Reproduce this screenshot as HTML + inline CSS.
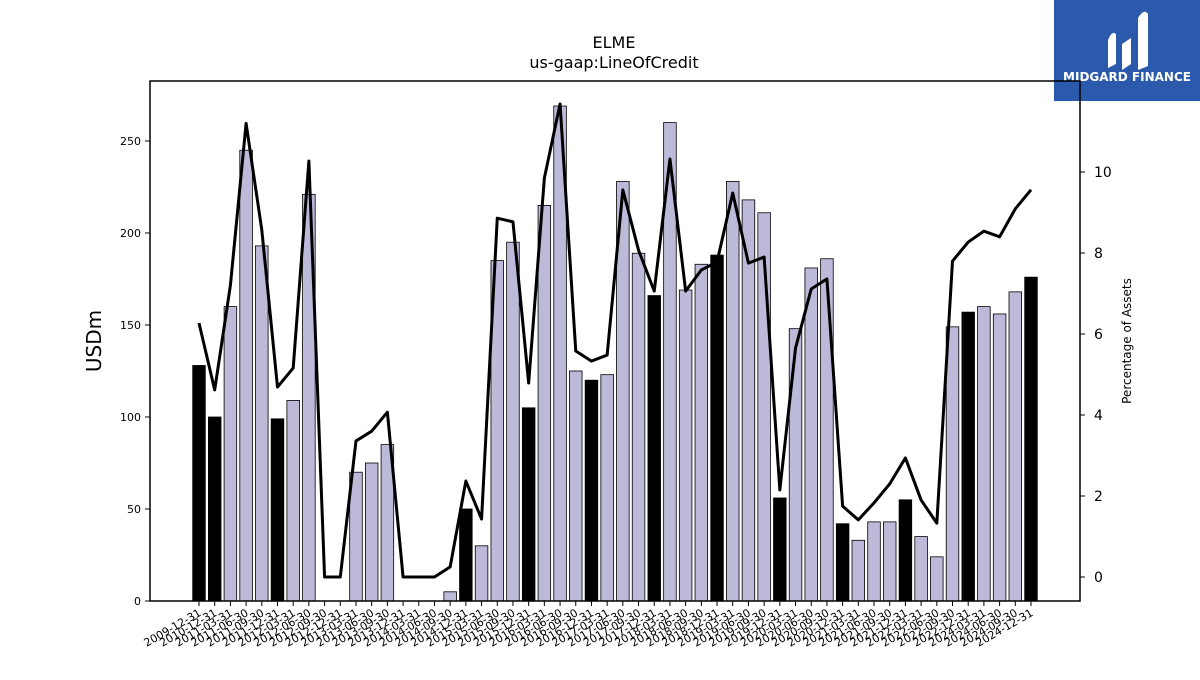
<!DOCTYPE html>
<html><head><meta charset="utf-8"><style>
body{margin:0;background:#fff;font-family:"Liberation Sans","DejaVu Sans",sans-serif;}
</style></head><body>
<svg id="c" width="1200" height="675" xmlns="http://www.w3.org/2000/svg" style="font-family:'DejaVu Sans','Liberation Sans',sans-serif">
<text x="614" y="48" text-anchor="middle" font-size="16">ELME</text>
<text x="614" y="68" text-anchor="middle" font-size="16">us-gaap:LineOfCredit</text>
<g>
<rect x="1054" y="0" width="146" height="101" fill="#2b5aad"/>
<path d="M1108 68 L1108 40 Q1112 30 1116 34 L1116 64 Z M1122 70 L1122 44 L1131 38 L1131 64 Z M1138 70 L1138 18 Q1144 8 1148 14 L1148 66 Z" fill="#fff"/>
<text x="1127" y="81" text-anchor="middle" font-size="12" font-weight="bold" fill="#fff">MIDGARD FINANCE</text>
</g>
<g id="plot"></g>
<text transform="translate(101,341) rotate(-90)" text-anchor="middle" font-size="20">USDm</text>
<text transform="translate(1131,341) rotate(-90)" text-anchor="middle" font-size="12">Percentage of Assets</text>
</svg>
<script>
const labels=["2009-12-31","2010-12-31","2011-03-31","2011-06-30","2011-09-30","2011-12-31","2012-03-31","2012-06-30","2012-09-30","2012-12-31","2013-03-31","2013-06-30","2013-09-30","2013-12-31","2014-03-31","2014-06-30","2014-09-30","2014-12-31","2015-03-31","2015-06-30","2015-09-30","2015-12-31","2016-03-31","2016-06-30","2016-09-30","2016-12-31","2017-03-31","2017-06-30","2017-09-30","2017-12-31","2018-03-31","2018-06-30","2018-09-30","2018-12-31","2019-03-31","2019-06-30","2019-09-30","2019-12-31","2020-03-31","2020-06-30","2020-09-30","2020-12-31","2021-03-31","2021-06-30","2021-09-30","2021-12-31","2022-03-31","2022-06-30","2022-09-30","2022-12-31","2024-03-31","2024-06-30","2024-09-30","2024-12-31"];
const values=[128,100,160,245,193,99,109,221,0,0,70,75,85,0,0,0,5,50,30,185,195,105,215,269,125,120,123,228,189,166,260,169,183,188,228,218,211,56,148,181,186,42,33,43,43,55,35,24,149,157,160,156,168,176];
const pct=[6.27,4.62,7.2,11.2,8.57,4.69,5.16,10.27,0,0,3.36,3.6,4.07,0,0,0,0.25,2.37,1.43,8.86,8.77,4.79,9.85,11.68,5.58,5.33,5.48,9.56,8.07,7.06,10.32,7.06,7.58,7.78,9.48,7.75,7.9,2.15,5.65,7.11,7.36,1.75,1.41,1.83,2.3,2.94,1.9,1.33,7.8,8.27,8.54,8.4,9.09,9.56];
const yTicks=[0,50,100,150,200,250];
const y2Ticks=[0,2,4,6,8,10];
const NS="http://www.w3.org/2000/svg";
const g=document.getElementById('plot');
const L=150,R=1080,T=81,B=601;
const x0=199,step=(1031-199)/(labels.length-1);
const X=i=>x0+i*step;
const Y=v=>601-v*1.84;
const Y2=v=>577-v*40.5;
function mk(t,a){const e=document.createElementNS(NS,t);for(const k in a)e.setAttribute(k,a[k]);g.appendChild(e);return e;}
values.forEach((v,i)=>{
 const blk=labels[i].endsWith("12-31");
 const r=mk('rect',{x:X(i)-6.3,y:Y(v),width:12.6,height:v*1.84,fill:blk?'#000':'#bcbad8',stroke:'#000','stroke-width':0.8});
 
 
});
const p=mk('polyline',{points:pct.map((v,i)=>X(i)+','+Y2(v)).join(' '),fill:'none',stroke:'#000','stroke-width':3,'stroke-linejoin':'round'});


const fr=mk('rect',{x:L,y:T,width:R-L,height:B-T,fill:'none',stroke:'#000','stroke-width':1.5});


yTicks.forEach(v=>{
 mk('line',{x1:L-5,x2:L,y1:Y(v),y2:Y(v),stroke:'#000'});
 const t=mk('text',{x:L-9,y:Y(v)+4,'text-anchor':'end','font-size':11});t.textContent=v;
 
 
});
y2Ticks.forEach(v=>{
 mk('line',{x1:R,x2:R+5,y1:Y2(v),y2:Y2(v),stroke:'#000'});
 const t=mk('text',{x:R+14,y:Y2(v)+5,'font-size':14});t.textContent=v;
 
 
});
labels.forEach((l,i)=>{
 mk('line',{x1:X(i),x2:X(i),y1:B,y2:B+5,stroke:'#000'});
 const t=mk('text',{x:X(i)+3,y:B+14,'text-anchor':'end','font-size':11,transform:`rotate(-30 ${X(i)+3} ${B+14})`});t.textContent=l;
 
 
});
</script>
</body></html>
